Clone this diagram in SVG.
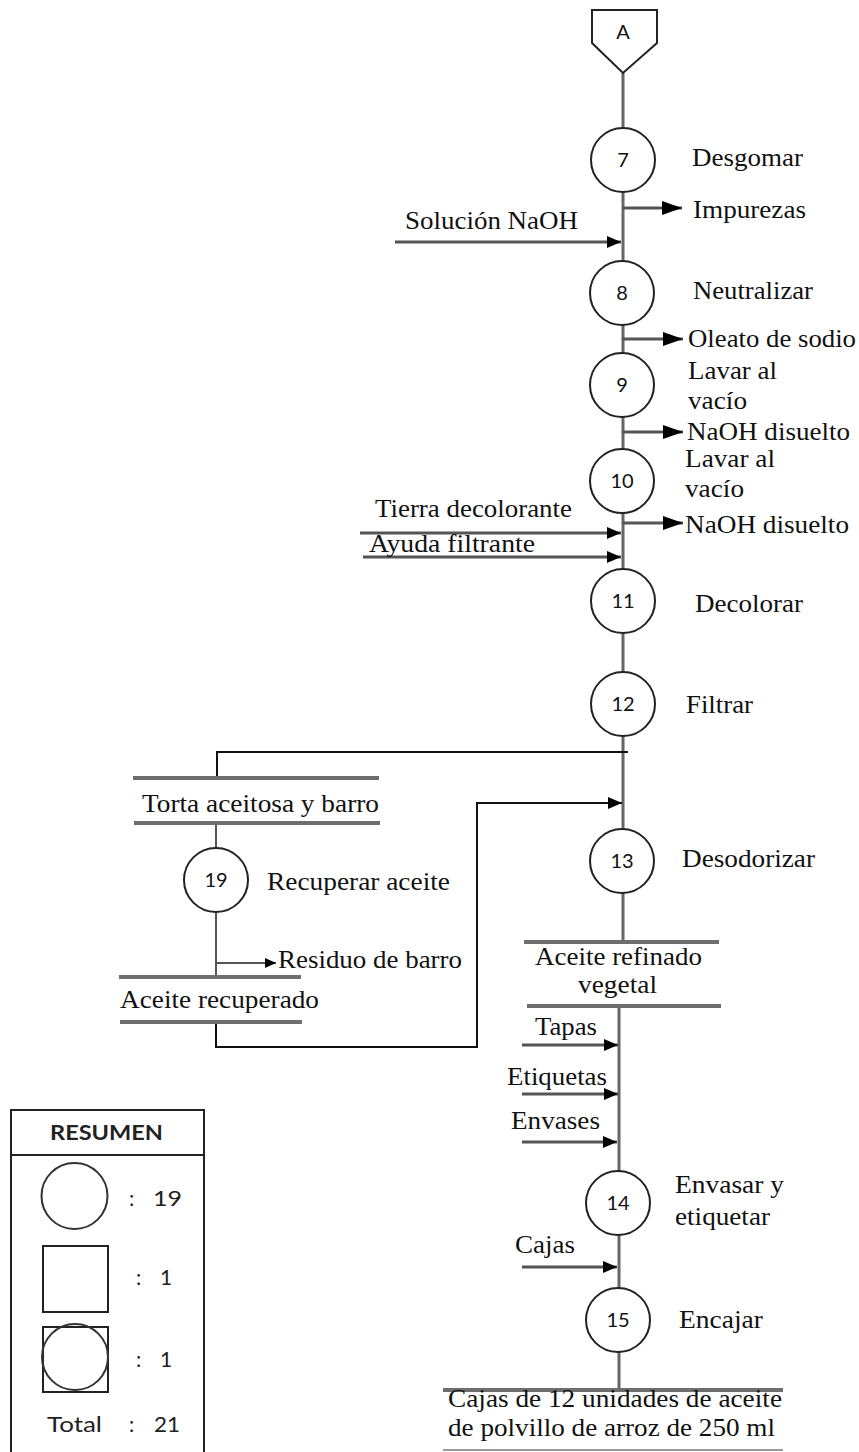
<svg xmlns="http://www.w3.org/2000/svg" width="859" height="1452" viewBox="0 0 859 1452">
<style>
.t{font-family:"Liberation Serif","Times New Roman",serif;font-size:25px;fill:#111}
.n{font-family:Lato,"Open Sans",sans-serif;font-size:20px;fill:#111;text-anchor:middle}
.lg{font-family:Lato,"Open Sans",sans-serif;font-size:21px;fill:#222}
.main{stroke:#666;stroke-width:3;fill:none}
.st{stroke:#6e6e6e;stroke-width:4;fill:none}
.blk{stroke:#111;stroke-width:2;fill:none}
.ar{stroke:#555;stroke-width:3;fill:none}
.c{fill:#fff;stroke:#222;stroke-width:2}
</style>
<defs>
<marker id="big" markerUnits="userSpaceOnUse" viewBox="0 0 20 14" refX="20" refY="7" markerWidth="20" markerHeight="14" orient="auto"><path d="M0,0 L20,7 L0,14 z" fill="#000"/></marker>
<marker id="sm" markerUnits="userSpaceOnUse" viewBox="0 0 14 12" refX="14" refY="6" markerWidth="14" markerHeight="12" orient="auto"><path d="M0,0 L14,6 L0,12 z" fill="#000"/></marker>
<marker id="xs" markerUnits="userSpaceOnUse" viewBox="0 0 11 10" refX="11" refY="5" markerWidth="11" markerHeight="10" orient="auto"><path d="M0,0 L11,5 L0,10 z" fill="#000"/></marker>
</defs>

<g id="connectors">
<path class="main" d="M623,73 V942"/>
<path class="main" d="M619,1006 V1390"/>
<path class="ar" d="M623,208 H682" marker-end="url(#big)"/>
<path class="ar" d="M395,242 H621" marker-end="url(#sm)"/>
<path class="ar" d="M622,339 H683" marker-end="url(#big)"/>
<path class="ar" d="M622,432 H683" marker-end="url(#big)"/>
<path class="ar" d="M623,523 H683" marker-end="url(#big)"/>
<path class="ar" d="M360,533 H621" marker-end="url(#sm)"/>
<path class="ar" d="M363,557 H621" marker-end="url(#sm)"/>
<path class="blk" d="M628,752 H217 V778"/>
<path class="ar" style="stroke-width:2" d="M216,823 V848"/>
<path class="ar" style="stroke-width:2" d="M216,912 V977"/>
<path class="ar" style="stroke-width:2" d="M216,963 H276" marker-end="url(#xs)"/>
<path class="blk" d="M216,1022 V1047 H477 V803 H622" marker-end="url(#sm)"/>
<path class="ar" d="M522,1045 H618" marker-end="url(#sm)"/>
<path class="ar" d="M522,1094 H618" marker-end="url(#sm)"/>
<path class="ar" d="M522,1142 H617" marker-end="url(#sm)"/>
<path class="ar" d="M522,1267 H617" marker-end="url(#sm)"/>
</g>

<g id="connA">
<polygon points="592,10 657,10 657,43 623,73 592,43" fill="#fff" stroke="#222" stroke-width="2"/>
<text class="n" x="623" y="39" font-size="17">A</text>
</g>

<g id="n7"><circle class="c" cx="623" cy="160" r="32"/><text class="n" x="623" y="167">7</text>
<text class="t" x="692" y="166" textLength="111" lengthAdjust="spacingAndGlyphs">Desgomar</text></g>
<g id="out-impurezas"><text class="t" x="693" y="218" textLength="113" lengthAdjust="spacingAndGlyphs">Impurezas</text></g>
<g id="in-naoh"><text class="t" x="405" y="229" textLength="173" lengthAdjust="spacingAndGlyphs">Solución NaOH</text></g>

<g id="n8"><circle class="c" cx="622" cy="293" r="32"/><text class="n" x="622" y="300">8</text>
<text class="t" x="693" y="299" textLength="120" lengthAdjust="spacingAndGlyphs">Neutralizar</text></g>
<g id="out-oleato"><text class="t" x="688" y="347" textLength="168" lengthAdjust="spacingAndGlyphs">Oleato de sodio</text></g>

<g id="n9"><circle class="c" cx="622" cy="385" r="32"/><text class="n" x="622" y="392">9</text>
<text class="t" x="688" y="379" textLength="89" lengthAdjust="spacingAndGlyphs">Lavar al</text>
<text class="t" x="688" y="409" textLength="59" lengthAdjust="spacingAndGlyphs">vacío</text></g>
<g id="out-naoh1"><text class="t" x="687" y="440" textLength="163" lengthAdjust="spacingAndGlyphs">NaOH disuelto</text></g>

<g id="n10"><circle class="c" cx="622" cy="481" r="32"/><text class="n" x="622" y="488">10</text>
<text class="t" x="685" y="467" textLength="90" lengthAdjust="spacingAndGlyphs">Lavar al</text>
<text class="t" x="685" y="497" textLength="59" lengthAdjust="spacingAndGlyphs">vacío</text></g>
<g id="out-naoh2"><text class="t" x="685" y="533" textLength="164" lengthAdjust="spacingAndGlyphs">NaOH disuelto</text></g>
<g id="in-tierra"><text class="t" x="375" y="517" textLength="197" lengthAdjust="spacingAndGlyphs">Tierra decolorante</text></g>
<g id="in-ayuda"><text class="t" x="369" y="552" textLength="166" lengthAdjust="spacingAndGlyphs">Ayuda filtrante</text></g>

<g id="n11"><circle class="c" cx="623" cy="601" r="32"/><text class="n" x="623" y="608">11</text>
<text class="t" x="695" y="612" textLength="108" lengthAdjust="spacingAndGlyphs">Decolorar</text></g>

<g id="n12"><circle class="c" cx="623" cy="704" r="32"/><text class="n" x="623" y="711">12</text>
<text class="t" x="686" y="713" textLength="67" lengthAdjust="spacingAndGlyphs">Filtrar</text></g>

<g id="s-torta">
<path class="st" d="M133,778 H379 M134,823 H380"/>
<text class="t" x="142" y="812" textLength="237" lengthAdjust="spacingAndGlyphs">Torta aceitosa y barro</text></g>

<g id="n19"><circle class="c" cx="216" cy="880" r="32"/><text class="n" x="216" y="887">19</text>
<text class="t" x="267" y="890" textLength="183" lengthAdjust="spacingAndGlyphs">Recuperar aceite</text></g>
<g id="out-residuo"><text class="t" x="278" y="968" textLength="184" lengthAdjust="spacingAndGlyphs">Residuo de barro</text></g>

<g id="s-recuperado">
<path class="st" d="M119,977 H301 M120,1022 H302"/>
<text class="t" x="120" y="1008" textLength="199" lengthAdjust="spacingAndGlyphs">Aceite recuperado</text></g>

<g id="n13"><circle class="c" cx="622" cy="861" r="32"/><text class="n" x="622" y="868">13</text>
<text class="t" x="682" y="867" textLength="133" lengthAdjust="spacingAndGlyphs">Desodorizar</text></g>

<g id="s-refinado">
<path class="st" d="M524,942 H719 M527,1006 H721"/>
<text class="t" x="535" y="965" textLength="167" lengthAdjust="spacingAndGlyphs">Aceite refinado</text>
<text class="t" x="578" y="993" textLength="79" lengthAdjust="spacingAndGlyphs">vegetal</text></g>

<g id="in-tapas"><text class="t" x="535" y="1035" textLength="62" lengthAdjust="spacingAndGlyphs">Tapas</text></g>
<g id="in-etiquetas"><text class="t" x="507" y="1085" textLength="100" lengthAdjust="spacingAndGlyphs">Etiquetas</text></g>
<g id="in-envases"><text class="t" x="511" y="1129" textLength="89" lengthAdjust="spacingAndGlyphs">Envases</text></g>

<g id="n14"><circle class="c" cx="618" cy="1203" r="32"/><text class="n" x="618" y="1210">14</text>
<text class="t" x="675" y="1193" textLength="109" lengthAdjust="spacingAndGlyphs">Envasar y</text>
<text class="t" x="675" y="1225" textLength="95" lengthAdjust="spacingAndGlyphs">etiquetar</text></g>
<g id="in-cajas"><text class="t" x="515" y="1253" textLength="60" lengthAdjust="spacingAndGlyphs">Cajas</text></g>

<g id="n15"><circle class="c" cx="618" cy="1320" r="32"/><text class="n" x="618" y="1327">15</text>
<text class="t" x="679" y="1328" textLength="84" lengthAdjust="spacingAndGlyphs">Encajar</text></g>

<g id="s-final">
<path class="st" d="M443,1390 H783"/>
<path stroke="#999" stroke-width="2" d="M443,1450 H783"/>
<text class="t" x="448" y="1407" textLength="334" lengthAdjust="spacingAndGlyphs">Cajas de 12 unidades de aceite</text>
<text class="t" x="448" y="1436" textLength="327" lengthAdjust="spacingAndGlyphs">de polvillo de arroz de 250 ml</text></g>

<g id="resumen">
<rect x="11" y="1110" width="193" height="345" fill="#fff" stroke="#222" stroke-width="2"/>
<path d="M11,1155 H204" stroke="#222" stroke-width="2"/>
<text class="lg" x="50" y="1140" font-weight="bold" textLength="113" lengthAdjust="spacingAndGlyphs">RESUMEN</text>
<circle cx="74.5" cy="1196" r="33" fill="none" stroke="#333" stroke-width="2"/>
<text class="lg" x="129" y="1206">:</text><text class="lg" x="153" y="1206" textLength="29" lengthAdjust="spacingAndGlyphs">19</text>
<rect x="43" y="1246" width="65" height="66" fill="none" stroke="#222" stroke-width="2"/>
<text class="lg" x="136" y="1285">:</text><text class="lg" x="160" y="1285">1</text>
<rect x="43" y="1327" width="65" height="65" fill="none" stroke="#222" stroke-width="2"/>
<circle cx="75" cy="1357" r="33" fill="none" stroke="#333" stroke-width="2"/>
<text class="lg" x="136" y="1367">:</text><text class="lg" x="160" y="1367">1</text>
<text class="lg" x="47" y="1432" textLength="55" lengthAdjust="spacingAndGlyphs">Total</text>
<text class="lg" x="129" y="1432">:</text><text class="lg" x="154" y="1432" textLength="26" lengthAdjust="spacingAndGlyphs">21</text>
</g>
</svg>
